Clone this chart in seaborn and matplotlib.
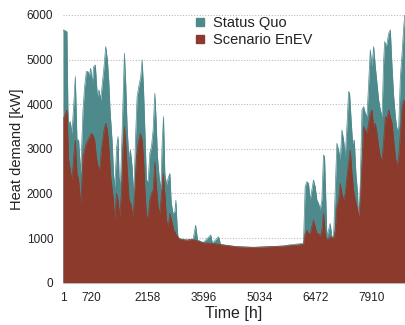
import numpy as np
import pandas as pd
import matplotlib
matplotlib.use("Agg")
import matplotlib.pyplot as plt
import seaborn as sns

# Status Quo (hour, kW)
sq_hours = [1, 18, 104, 129, 147, 189, 232, 275, 318, 361, 403, 455, 515, 557, 600, 643, 677, 711,
            754, 789, 831, 883, 925, 968, 1011, 1054, 1097, 1140, 1174, 1208, 1259, 1302, 1328, 1379,
            1413, 1439, 1473, 1516, 1550, 1576, 1610, 1645, 1687, 1730, 1773, 1816, 1859, 1901, 1944,
            1995, 2030, 2064, 2098, 2141, 2184, 2227, 2269, 2312, 2355, 2389, 2423, 2466, 2509, 2543,
            2578, 2612, 2655, 2700, 2741, 2775, 2820, 2870, 2895, 2925, 2950, 2997, 3168, 3339, 3400,
            3450, 3596, 3790, 3830, 3990, 4040, 4110, 4452, 4880, 5308, 5650, 5822, 6164, 6207, 6250,
            6293, 6336, 6378, 6421, 6464, 6507, 6550, 6592, 6635, 6678, 6704, 6738, 6764, 6806, 6849,
            6892, 6935, 6978, 7020, 7063, 7106, 7149, 7192, 7234, 7277, 7320, 7346, 7380, 7423, 7466,
            7508, 7551, 7577, 7620, 7662, 7705, 7748, 7791, 7834, 7876, 7919, 7962, 8005, 8048, 8090,
            8133, 8176, 8219, 8245, 8279, 8305, 8347, 8390, 8433, 8476, 8519, 8561, 8604, 8647, 8690,
            8733, 8760]
sq_values = [5600, 5665, 5628, 3871, 3573, 3610, 3348, 3946, 4619, 3199, 3199, 2451, 3871, 4395, 4731,
             4731, 4619, 4806, 4469, 4843, 4880, 4170, 4320, 4096, 4469, 4843, 5292, 4993, 4544, 3871,
             3199, 2377, 2152, 3049, 3274, 2377, 2152, 3348, 4395, 5142, 4469, 3498, 2825, 2975, 2601,
             1928, 3199, 4170, 4395, 4619, 4993, 4395, 3498, 2302, 2265, 2900, 3049, 3423, 4245, 3647,
             2825, 2377, 2078, 3124, 3722, 2450, 2200, 2350, 2450, 1800, 1550, 1600, 1850, 1300, 1000,
             990, 957, 980, 1290, 960, 900, 1070, 890, 1030, 860, 850, 810, 795, 810, 825, 850, 882,
             2152, 2265, 2227, 1854, 2078, 2302, 2152, 1854, 1779, 1629, 1854, 2863, 2825, 1854, 1031,
             1181, 1330, 1031, 1031, 2078, 3124, 2975, 2750, 3423, 3199, 2825, 3498, 4283, 4245, 3722,
             3124, 3199, 2451, 2003, 1330, 2227, 3871, 3946, 3797, 3722, 4469, 5217, 4843, 5292, 4843,
             4469, 4096, 3871, 3722, 4993, 5404, 5292, 5366, 5591, 5665, 4843, 4170, 3722, 3423, 3498,
             4619, 5142, 5740, 6000]

# Scenario EnEV (hour, kW)
en_hours = [1, 104, 147, 189, 232, 284, 318, 361, 403, 455, 515, 557, 600, 643, 686, 729, 771, 814,
            857, 900, 943, 985, 1054, 1097, 1140, 1182, 1225, 1285, 1328, 1371, 1413, 1456, 1499, 1542,
            1576, 1610, 1653, 1696, 1739, 1799, 1841, 1884, 1927, 1987, 2030, 2064, 2098, 2141, 2184,
            2227, 2269, 2312, 2355, 2398, 2440, 2483, 2526, 2569, 2612, 2655, 2697, 2740, 2783, 2843,
            2911, 2997, 3168, 3339, 3596, 3853, 4110, 4452, 4880, 5308, 5650, 5993, 6164, 6207, 6250,
            6293, 6336, 6378, 6421, 6464, 6507, 6550, 6592, 6635, 6678, 6721, 6764, 6849, 6935, 6978,
            7020, 7063, 7106, 7149, 7192, 7234, 7277, 7320, 7363, 7406, 7448, 7491, 7534, 7577, 7620,
            7662, 7705, 7748, 7791, 7834, 7876, 7919, 7962, 8005, 8048, 8090, 8133, 8176, 8219, 8262,
            8305, 8347, 8390, 8433, 8476, 8519, 8561, 8604, 8647, 8690, 8733, 8760]
en_values = [3650, 3871, 2750, 2526, 2302, 2900, 3199, 2451, 2302, 1779, 2825, 2975, 3124, 3199, 3274,
             3348, 3311, 3199, 2825, 2601, 2526, 2975, 3423, 3573, 3423, 2975, 2377, 1928, 1405, 2003,
             1854, 1480, 2003, 3049, 3498, 3124, 2451, 1854, 1779, 1480, 2078, 2825, 3124, 3348, 3199,
             2825, 2152, 1480, 1480, 1854, 2003, 2078, 2700, 2152, 1704, 1555, 2003, 2451, 2003, 1405,
             1256, 1555, 1405, 1180, 1070, 970, 957, 970, 897, 882, 845, 807, 792, 807, 822, 845, 860,
             1106, 1181, 1106, 1106, 1256, 1405, 1256, 1106, 1106, 1031, 1181, 1555, 1106, 957, 1031,
             994, 1181, 1704, 1854, 2227, 2003, 1854, 2003, 2377, 2676, 2975, 2451, 2078, 1854, 1704,
             1480, 1854, 2676, 3498, 3423, 3348, 3573, 3797, 3871, 3498, 3573, 3348, 3049, 2825, 2750,
             3199, 3722, 3685, 3871, 3722, 3573, 3199, 2825, 2601, 2825, 3348, 3946, 4096, 4060]

series_names = ["Status Quo", "Scenario EnEV"]
colors = ["#4e8a8c", "#8c3a2c"]
xtick_positions = [1, 720, 1439, 2158, 2877, 3596, 4315, 5034, 5753, 6472, 7191, 7910, 8629]
xtick_labels = ["1", "720", "", "2158", "", "3596", "", "5034", "", "6472", "", "7910", ""]
ytick_values = [0, 1000, 2000, 3000, 4000, 5000, 6000]

df = pd.concat([
    pd.DataFrame({"hour": sq_hours, "kW": sq_values, "series": series_names[0]}),
    pd.DataFrame({"hour": en_hours, "kW": en_values, "series": series_names[1]}),
])

sns.set_style("white")
plt.rcParams["font.family"] = ["Liberation Sans", "DejaVu Sans"]

fig = plt.figure(figsize=(4.06, 3.25), dpi=100)
ax = fig.add_axes([0.155, 0.130, 0.842, 0.824])

ax.yaxis.grid(True, linestyle=(0, (1, 1.5)), color="#bbbbbb", linewidth=0.8)
ax.set_axisbelow(True)

sns.lineplot(data=df, x="hour", y="kW", hue="series", palette=colors,
             hue_order=series_names, linewidth=0.5, legend=False, ax=ax, zorder=3)
for name, col, z in zip(series_names, colors, [2, 4]):
    sub = df[df["series"] == name]
    ax.fill_between(sub["hour"], 0, sub["kW"], color=col, linewidth=0, zorder=z)

for name, col in zip(series_names, colors):
    ax.plot([], [], "s", color=col, markersize=5.5, label=name)
leg = ax.legend(loc="upper left", bbox_to_anchor=(0.375, 0.995), frameon=False,
                fontsize=10.5, handletextpad=0.3, handlelength=1.2, labelspacing=0.2,
                borderpad=0.0, borderaxespad=0.0)
for t in leg.get_texts():
    t.set_color("#222222")

ax.set_xlim(1, 8760)
ax.set_ylim(0, 6000)
ax.set_xticks(xtick_positions)
ax.set_xticklabels(xtick_labels)
ax.set_yticks(ytick_values)
for s in ax.spines.values():
    s.set_visible(False)
ax.tick_params(axis="both", direction="out", length=4, width=0.6, color="#888888",
               labelsize=8.5, pad=3, labelcolor="#222222")
ax.set_xlabel("Time [h]", fontsize=11.5, labelpad=1, color="#222222")
ax.set_ylabel("Heat demand [kW]", fontsize=10.5, labelpad=2, color="#222222")

fig.savefig("out.png", dpi=100)
